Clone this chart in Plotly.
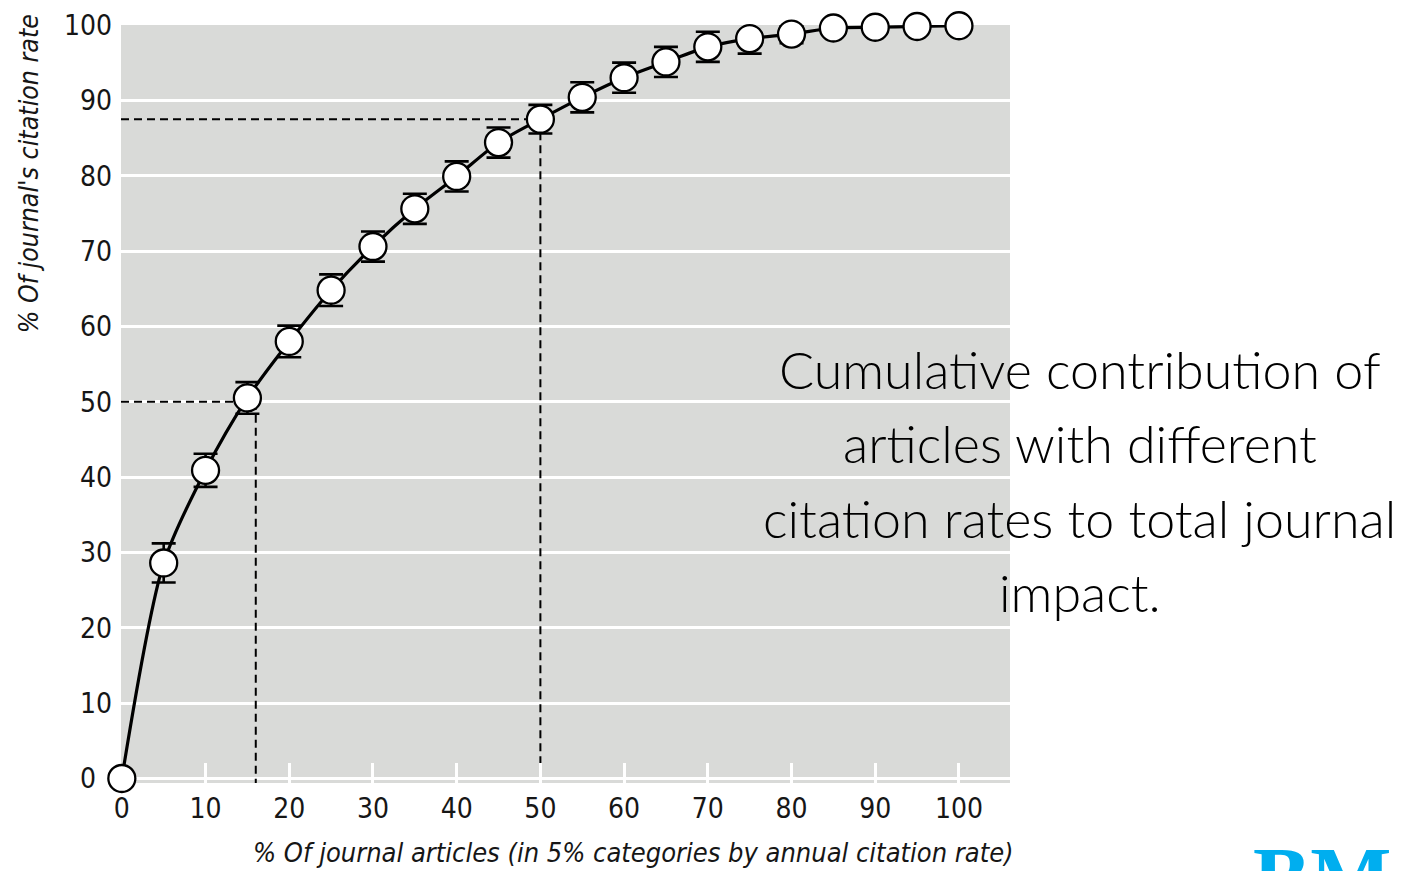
import plotly.graph_objects as go

# cumulative share of citations by 5% article category
article_pct = [0, 5, 10, 15, 20, 25, 30, 35, 40, 45, 50, 55, 60, 65, 70, 75, 80, 85, 90, 95, 100]
citation_pct = [0, 28.6, 40.9, 50.5, 58.0, 64.8, 70.6, 75.6, 79.9, 84.4, 87.5, 90.4,
                93.0, 95.1, 97.1, 98.2, 98.8, 99.6, 99.7, 99.8, 99.9]
citation_err = [0, 2.6, 2.2, 2.1, 2.1, 2.1, 2.0, 2.0, 2.0, 2.0, 1.9, 2.0,
                2.0, 2.0, 2.0, 2.0, 1.2, 0.8, 0.5, 0.3, 0.2]
tick_vals = [0, 10, 20, 30, 40, 50, 60, 70, 80, 90, 100]
y_tick_text = ["0\u00a0\u00a0"] + [str(v) for v in tick_vals[1:]]

# reference lines: half of citations / half of articles
half_citations = (16, 50)
half_articles = (50, 87.5)

caption_lines = [
    "Cumulative contribution of",
    "articles with different",
    "citation rates to total journal",
    "impact.",
]
caption_y = [0.546, 0.449, 0.350, 0.252]

x_min, x_max = -0.1, 106.1
y_min, y_max = -0.6, 100

narrow = "DejaVu Sans Condensed, Liberation Sans Narrow, Liberation Sans, sans-serif"
ink = "#161616"

fig = go.Figure()
fig.add_trace(go.Scatter(
    x=article_pct,
    y=citation_pct,
    mode="lines+markers",
    line=dict(color="black", width=3.2, shape="spline", smoothing=0.8),
    marker=dict(size=27, color="white", line=dict(color="black", width=2.3)),
    error_y=dict(type="data", array=citation_err, color="black", thickness=2.6, width=12),
    showlegend=False,
    cliponaxis=False,
))

dash = dict(color="black", width=2, dash="8px,5px")
for xv, yv in (half_citations, half_articles):
    fig.add_shape(type="line", x0=x_min, x1=xv, y0=yv, y1=yv, line=dash, layer="between")
    fig.add_shape(type="line", x0=xv, x1=xv, y0=yv, y1=y_min, line=dash, layer="between")

for line, ly in zip(caption_lines, caption_y):
    fig.add_annotation(
        text=line, xref="paper", yref="paper", x=1.0787, y=ly,
        xanchor="center", yanchor="middle", showarrow=False,
        font=dict(family="Lato, Roboto, sans-serif", size=52, color="black", weight=300),
    )

fig.add_annotation(
    text="<i>% Of journal's citation rate</i>",
    xref="paper", yref="paper", x=-0.1046, y=0.803, xanchor="center", yanchor="middle",
    textangle=-90, showarrow=False,
    font=dict(family=narrow, size=26.5, color=ink),
)
fig.add_annotation(
    text="<i>% Of journal articles (in 5% categories by annual citation rate)</i>",
    xref="paper", yref="paper", x=0.576, y=-0.0923, xanchor="center", yanchor="middle",
    showarrow=False,
    font=dict(family=narrow, size=27, color=ink),
)
fig.add_annotation(
    text="<b>BMJ</b>",
    xref="paper", yref="paper", x=1.271, y=-0.0595, xanchor="left", yanchor="top",
    showarrow=False,
    font=dict(family="Liberation Serif, serif", size=86, color="#00AEEF"),
)

# the page body adds an 8px offset, so margins are reduced by 8 on the left/top
fig.update_layout(
    width=1404,
    height=871,
    margin=dict(l=113, r=402, t=17, b=96),
    paper_bgcolor="white",
    plot_bgcolor="#d9dad8",
    xaxis=dict(
        range=[x_min, x_max], tickvals=tick_vals, showgrid=False, zeroline=False,
        ticks="inside", ticklen=20, tickwidth=3, tickcolor="white", automargin=False,
        ticklabelstandoff=6,
        showline=False, tickfont=dict(family=narrow, size=28, color=ink),
    ),
    yaxis=dict(
        range=[y_min, y_max], tickvals=tick_vals, ticktext=y_tick_text,
        showgrid=True, gridcolor="white", ticklabelstandoff=8,
        gridwidth=3, zeroline=False, showline=False, ticks="", automargin=False,
        tickfont=dict(family=narrow, size=28, color=ink),
    ),
)

fig.write_html("out.html")
